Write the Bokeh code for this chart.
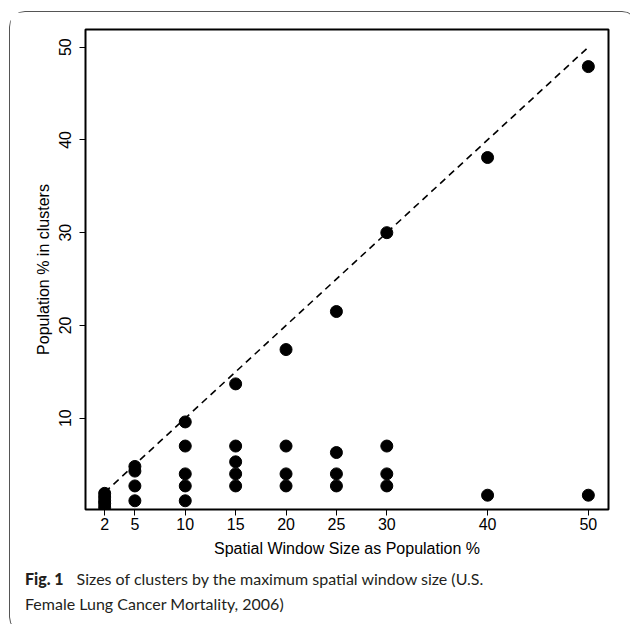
from bokeh.plotting import figure
from bokeh.models import Range1d, FixedTicker, Div
from bokeh.layouts import column
from bokeh.embed import file_html
from bokeh.resources import INLINE

# Data
window_size = [2, 2, 2, 2, 2,
               5, 5, 5, 5,
               10, 10, 10, 10, 10,
               15, 15, 15, 15, 15,
               20, 20, 20, 20,
               25, 25, 25, 25,
               30, 30, 30, 30,
               40, 40,
               50, 50]
pop_in_clusters = [0.4, 0.8, 1.1, 1.5, 1.9,
                   4.8, 4.3, 2.7, 1.1,
                   9.6, 7.0, 4.0, 2.7, 1.1,
                   13.7, 7.0, 5.3, 4.0, 2.7,
                   17.4, 7.0, 4.0, 2.7,
                   21.5, 6.3, 4.0, 2.7,
                   30.0, 7.0, 4.0, 2.7,
                   38.1, 1.7,
                   47.9, 1.7]
ref_x = [2, 50]
ref_y = [2, 50]
x_ticks = [2, 5, 10, 15, 20, 25, 30, 40, 50]
y_ticks = [10, 20, 30, 40, 50]

x_label = "Spatial Window Size as Population %"
y_label = "Population % in clusters"
cap_bold = "Fig. 1"
cap_line1 = "Sizes of clusters by the maximum spatial window size (U.S."
cap_line2 = "Female Lung Cancer Mortality, 2006)"

AXFONT = "Liberation Sans"
CAPFONT = "Lato"

p = figure(width=617, height=553, output_backend="svg", toolbar_location=None,
           title=None,
           x_range=Range1d(0.1, 52.0), y_range=Range1d(0.16, 51.9),
           min_border_left=75, min_border_right=19,
           min_border_top=17, min_border_bottom=56)

p.grid.visible = False
p.background_fill_color = "white"
p.border_fill_color = "white"
p.outline_line_color = "black"
p.outline_line_width = 2
p.outline_line_alpha = 1

p.line(ref_x, ref_y, line_color="black", line_width=1.6, line_dash="7 5")
p.scatter(window_size, pop_in_clusters, size=12, marker="circle",
          fill_color="black", line_color="black")

for ax in (p.xaxis[0], p.yaxis[0]):
    ax.axis_line_color = None
    ax.major_tick_line_color = "black"
    ax.major_tick_line_width = 1
    ax.major_tick_out = 6
    ax.major_tick_in = 0
    ax.minor_tick_line_color = None
    ax.major_label_text_font = AXFONT
    ax.major_label_text_font_size = "16px"
    ax.major_label_text_color = "black"
    ax.axis_label_text_font = AXFONT
    ax.axis_label_text_font_size = "16px"
    ax.axis_label_text_font_style = "normal"
    ax.axis_label_text_color = "black"

p.xaxis[0].ticker = FixedTicker(ticks=x_ticks)
p.yaxis[0].ticker = FixedTicker(ticks=y_ticks)
p.xaxis[0].axis_label = x_label
p.yaxis[0].axis_label = y_label
p.xaxis[0].major_label_standoff = 2
p.xaxis[0].axis_label_standoff = 7
p.yaxis[0].major_label_orientation = "vertical"
p.yaxis[0].major_label_standoff = 8
p.yaxis[0].axis_label_standoff = 5

caption_html = (
    '<div style="margin-top:-4px">'
    f'<span style="font-weight:900;margin-right:13px">{cap_bold}</span>'
    f'{cap_line1}<br>{cap_line2}</div>'
)
caption = Div(text=caption_html, width=617, height=57,
              styles={"font-family": CAPFONT, "font-size": "16px",
                      "line-height": "25px", "color": "#231f20",
                      "padding-left": "10px", "box-sizing": "border-box"})

layout = column(p, caption, spacing=0, margin=(11, 0, 0, 9),
                styles={"border": "1px solid #555555",
                        "border-radius": "16px",
                        "background-color": "white"})

open("out.html", "w").write(file_html(layout, INLINE))
